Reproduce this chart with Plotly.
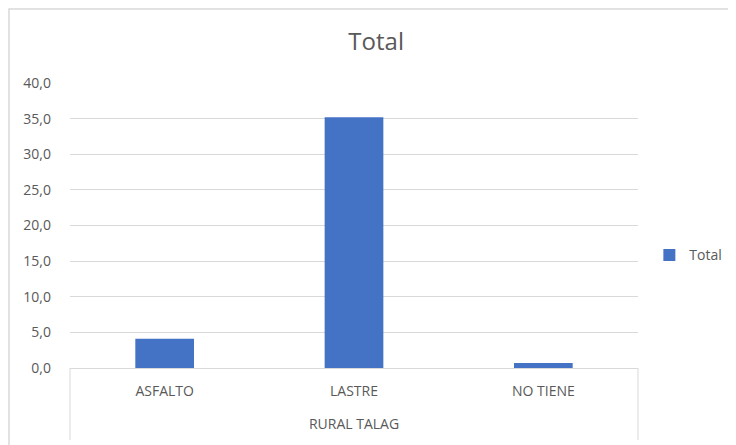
import plotly.graph_objects as go

# data
group = "RURAL TALAG"
categories = ["ASFALTO", "LASTRE", "NO TIENE"]
values = [4.1, 35.2, 0.7]
y_ticks = [0, 5, 10, 15, 20, 25, 30, 35, 40]
y_ticktext = ["0,0", "5,0", "10,0", "15,0", "20,0", "25,0", "30,0", "35,0", "40,0"]

FONT = "Open Sans"
GREY = "#595959"
GRID = "#d9d9d9"

# the page body adds an 8px offset, so the figure is 8px smaller
W, H = 728, 437
L, R, T, B = 62, 98, 75, 77
PW, PH = W - L - R, H - T - B

fig = go.Figure()
fig.add_trace(go.Bar(
    x=categories,
    y=values,
    name="Total",
    marker=dict(color="#4472c4", line=dict(width=0)),
))

fig.update_layout(
    width=W, height=H,
    margin=dict(l=L, r=R, t=T, b=B, autoexpand=False),
    paper_bgcolor="white", plot_bgcolor="white",
    font=dict(family=FONT, size=14, color=GREY),
    title=dict(text="Total", x=0.539, xref="paper", xanchor="center",
               y=0.922, yanchor="middle",
               font=dict(family=FONT, size=24, color=GREY)),
    bargap=0.69,
    showlegend=True,
    legend=dict(x=1.02, y=0.395, xanchor="left", yanchor="middle",
                font=dict(family=FONT, size=14, color=GREY),
                itemwidth=30),
    xaxis=dict(
        type="category", automargin=False,
        showgrid=False, zeroline=False,
        showline=True, linecolor=GRID, linewidth=1,
        ticks="", ticklabelstandoff=10,
        tickfont=dict(family=FONT, size=14, color=GREY),
        title=dict(text=group, standoff=20,
                   font=dict(family=FONT, size=14, color=GREY)),
    ),
    yaxis=dict(
        range=[0, 40], tickvals=y_ticks, ticktext=y_ticktext,
        automargin=False,
        showgrid=True, gridcolor=GRID, gridwidth=1,
        zeroline=False, showline=False, ticks="",
        tickfont=dict(family=FONT, size=14, color=GREY),
        ticklabelstandoff=18,
    ),
)

# category-axis frame lines at both ends of the plot
for xe in (0, 1):
    fig.add_shape(type="line", xref="paper", yref="paper",
                  x0=xe, x1=xe, y0=0, y1=-72 / PH,
                  line=dict(color=GRID, width=1))

# light chart-area border like the spreadsheet frame
fig.add_shape(type="rect", xref="paper", yref="paper",
              x0=-(L - 1) / PW, x1=(PW + R + 20) / PW,
              y0=-(B + 20) / PH, y1=(PH + T - 1) / PH,
              line=dict(color=GRID, width=1.5), fillcolor="rgba(0,0,0,0)",
              layer="below")

fig.write_html("out.html")
